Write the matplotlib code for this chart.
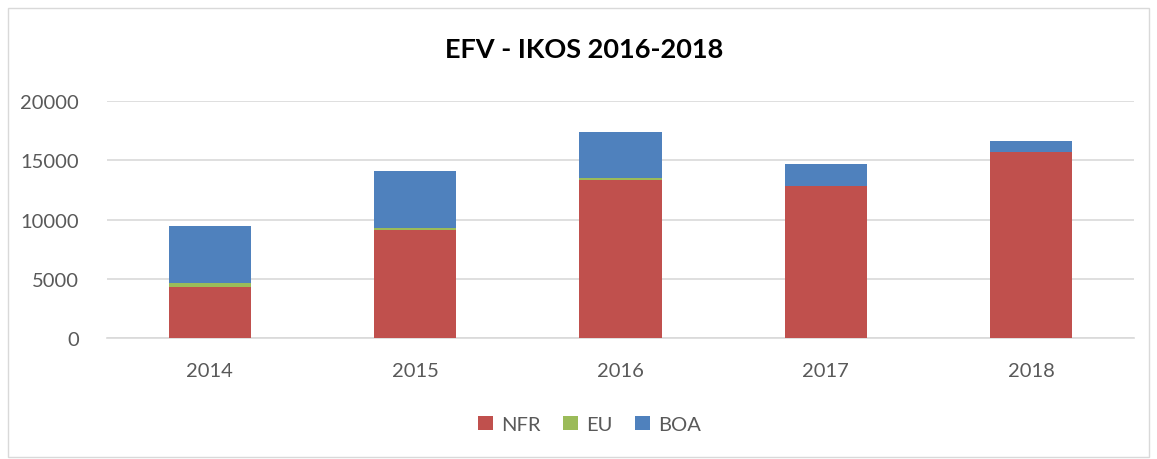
import numpy as np
import matplotlib.pyplot as plt
from matplotlib.patches import Rectangle

years = ['2014', '2015', '2016', '2017', '2018']
nfr = [4320, 9150, 13340, 12810, 15670]
eu = [360, 170, 140, 20, 0]
boa = [4760, 4750, 3920, 1850, 980]

plt.rcParams['font.family'] = ['Lato', 'DejaVu Sans']

fig = plt.figure(figsize=(11.57, 4.6), dpi=100)
ax = fig.add_axes([0.0925, 0.2624, 0.8875, 0.5156])

x = np.arange(len(years))
w = 0.4
nfr = np.array(nfr)
eu = np.array(eu)
boa = np.array(boa)
ax.bar(x, nfr, w, color='#C0504D', label='NFR', zorder=3)
ax.bar(x, eu, w, bottom=nfr, color='#9BBB59', label='EU', zorder=3)
ax.bar(x, boa, w, bottom=nfr + eu, color='#4F81BD', label='BOA', zorder=3)

ax.set_xlim(-0.5, len(years) - 0.5)
ax.set_ylim(0, 20000)
ax.set_yticks(np.arange(0, 20001, 5000))
ax.set_xticks(x)
ax.set_xticklabels(years)
ax.yaxis.grid(True, color='#D9D9D9', linewidth=1.2, zorder=0)
for s in ['top', 'right', 'left']:
    ax.spines[s].set_visible(False)
ax.spines['bottom'].set_color('#D9D9D9')
ax.spines['bottom'].set_linewidth(1.2)
ax.tick_params(length=0, labelsize=14.5, colors='#595959')
ax.tick_params(axis='x', pad=17)
ax.tick_params(axis='y', pad=20)

fig.text(0.505, 0.891, 'EFV - IKOS 2016-2018', ha='center', va='center',
         fontsize=19.5, fontweight='bold', color='black')

ax.legend(loc='upper center', bbox_to_anchor=(0.47, -0.25), ncol=3, frameon=False,
          fontsize=14.5, labelcolor='#595959', handlelength=0.75, handleheight=0.75,
          columnspacing=1.1, handletextpad=0.4)

fig.patches.append(Rectangle((0.007, 0.005), 0.986, 0.975, transform=fig.transFigure,
                             fill=False, edgecolor='#D9D9D9', linewidth=1))

fig.savefig('out.png', dpi=100)
